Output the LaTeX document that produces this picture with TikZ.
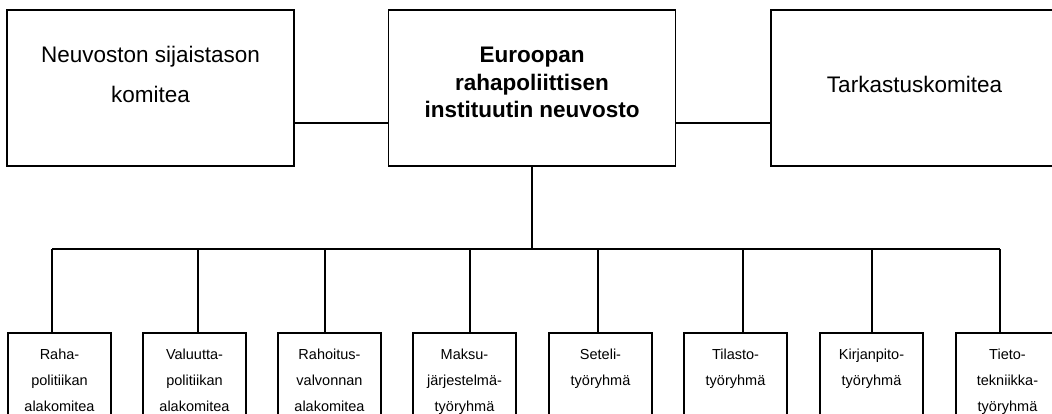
\documentclass[tikz,border=0pt]{standalone}
\usepackage{fontspec}
\setmainfont{Liberation Sans}
\begin{document}
\begin{tikzpicture}[x=1pt,y=-1pt,line width=1.2pt,
  topbox/.style={draw, minimum width=287pt, minimum height=156pt, inner sep=0pt},
  subbox/.style={draw, minimum width=103pt, minimum height=100pt, inner sep=0pt},
  toptext/.style={anchor=north, inner sep=0pt, align=center, font=\fontsize{22.5}{40}\selectfont},
  boldtext/.style={anchor=north, inner sep=0pt, align=center, font=\bfseries\fontsize{22.5}{27.5}\selectfont},
  subtext/.style={anchor=north, inner sep=0pt, align=center, font=\fontsize{14.5}{26}\selectfont},
  conn/.style={draw, line width=1.2pt}]
\useasboundingbox (0,0) rectangle (1052,414);
\clip (0,0) rectangle (1052,414);
% top row
\node[topbox] (n1) at (150.5,88) {};
\node[toptext] (t1) at (150.5,45.5) {Neuvoston sijaistason\\komitea};
\node[topbox] (n2) at (532,88) {};
\node[boldtext] (t2) at (532,46.5) {Euroopan\\rahapoliittisen\\instituutin neuvosto};
\node[topbox] (n3) at (914.5,88) {};
\node[toptext] (t3) at (914.5,75.5) {Tarkastuskomitea};
\coordinate (h) at (0,123);
\draw[conn] (n1.east |- h) -- (n2.west |- h);
\draw[conn] (n2.east |- h) -- (n3.west |- h);
% bottom row
\node[subbox] (b1) at (59.5,383) {};
\node[subbox] (b2) at (194.5,383) {};
\node[subbox] (b3) at (329.5,383) {};
\node[subbox] (b4) at (464.5,383) {};
\node[subbox] (b5) at (600.5,383) {};
\node[subbox] (b6) at (735.5,383) {};
\node[subbox] (b7) at (871.5,383) {};
\node[subbox] (b8) at (1007.5,383) {};
\node[subtext] (s1) at (59.5,348.5) {Raha-\\politiikan\\alakomitea};
\node[subtext] (s2) at (194.5,348.5) {Valuutta-\\politiikan\\alakomitea};
\node[subtext] (s3) at (329.5,348.5) {Rahoitus-\\valvonnan\\alakomitea};
\node[subtext] (s4) at (464.5,348.5) {Maksu-\\järjestelmä-\\työryhmä};
\node[subtext] (s5) at (600.5,348.5) {Seteli-\\työryhmä};
\node[subtext] (s6) at (735.5,348.5) {Tilasto-\\työryhmä};
\node[subtext] (s7) at (871.5,348.5) {Kirjanpito-\\työryhmä};
\node[subtext] (s8) at (1007.5,348.5) {Tieto-\\tekniikka-\\työryhmä};
% bus
\coordinate (v1) at (52,249);
\coordinate (v2) at (198,249);
\coordinate (v3) at (325,249);
\coordinate (v4) at (470,249);
\coordinate (v5) at (598,249);
\coordinate (v6) at (743,249);
\coordinate (v7) at (872,249);
\coordinate (v8) at (1000,249);
\draw[conn] (v1) -- (v8);
\draw[conn] (n2.south) -- (n2.south |- v1);
\foreach \i in {1,...,8} {
  \draw[conn] (v\i) -- (v\i |- b\i.north);
}
\end{tikzpicture}
\end{document}
